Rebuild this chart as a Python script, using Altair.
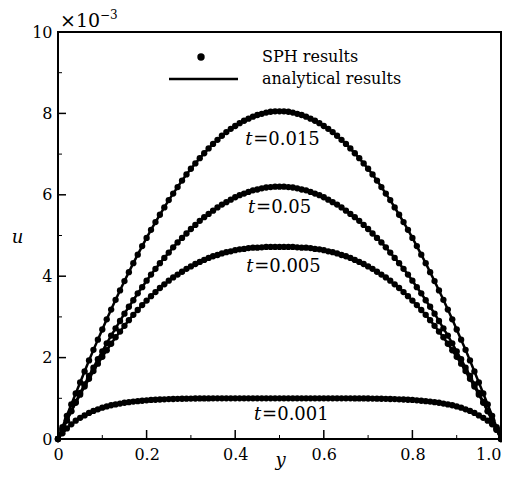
import altair as alt
import pandas as pd

# particle / sample positions across the channel
y_pos = [round(i * 0.01, 2) for i in range(101)]

# velocity u (x 1e-3), one list per time
u_t0015 = [0, 0.29, 0.57, 0.85, 1.12, 1.39, 1.66, 1.93, 2.19, 2.44, 2.69, 2.94, 3.18, 3.42, 3.65, 3.88, 4.10,
           4.32, 4.53, 4.74, 4.94, 5.14, 5.33, 5.51, 5.69, 5.87, 6.03, 6.19, 6.35, 6.50, 6.64, 6.77, 6.90, 7.02,
           7.14, 7.25, 7.35, 7.45, 7.54, 7.62, 7.69, 7.76, 7.82, 7.87, 7.92, 7.96, 7.99, 8.02, 8.04, 8.05, 8.05,
           8.05, 8.04, 8.02, 7.99, 7.96, 7.92, 7.87, 7.82, 7.76, 7.69, 7.62, 7.54, 7.45, 7.35, 7.25, 7.14, 7.02,
           6.90, 6.77, 6.64, 6.50, 6.35, 6.19, 6.03, 5.87, 5.69, 5.51, 5.33, 5.14, 4.94, 4.74, 4.53, 4.32, 4.10,
           3.88, 3.65, 3.42, 3.18, 2.94, 2.69, 2.44, 2.19, 1.93, 1.66, 1.39, 1.12, 0.85, 0.57, 0.29, 0]
u_t005 = [0, 0.23, 0.46, 0.69, 0.91, 1.13, 1.34, 1.55, 1.75, 1.96, 2.15, 2.35, 2.54, 2.72, 2.90, 3.08, 3.25,
          3.41, 3.58, 3.73, 3.89, 4.04, 4.18, 4.32, 4.45, 4.58, 4.71, 4.83, 4.94, 5.05, 5.16, 5.26, 5.36, 5.45,
          5.53, 5.61, 5.69, 5.76, 5.82, 5.88, 5.94, 5.99, 6.03, 6.07, 6.11, 6.13, 6.16, 6.18, 6.19, 6.20, 6.20,
          6.20, 6.19, 6.18, 6.16, 6.13, 6.11, 6.07, 6.03, 5.99, 5.94, 5.88, 5.82, 5.76, 5.69, 5.61, 5.53, 5.45,
          5.36, 5.26, 5.16, 5.05, 4.94, 4.83, 4.71, 4.58, 4.45, 4.32, 4.18, 4.04, 3.89, 3.73, 3.58, 3.41, 3.25,
          3.08, 2.90, 2.72, 2.54, 2.35, 2.15, 1.96, 1.75, 1.55, 1.34, 1.13, 0.91, 0.69, 0.46, 0.23, 0]
u_t0005 = [0, 0.23, 0.46, 0.68, 0.89, 1.09, 1.29, 1.48, 1.67, 1.85, 2.02, 2.18, 2.34, 2.50, 2.64, 2.78, 2.92,
           3.05, 3.17, 3.29, 3.40, 3.51, 3.61, 3.71, 3.80, 3.89, 3.97, 4.04, 4.11, 4.18, 4.24, 4.30, 4.35, 4.40,
           4.45, 4.49, 4.52, 4.56, 4.59, 4.61, 4.64, 4.66, 4.67, 4.69, 4.70, 4.70, 4.71, 4.72, 4.72, 4.72, 4.72,
           4.72, 4.72, 4.72, 4.71, 4.70, 4.70, 4.69, 4.67, 4.66, 4.64, 4.61, 4.59, 4.56, 4.52, 4.49, 4.45, 4.40,
           4.35, 4.30, 4.24, 4.18, 4.11, 4.04, 3.97, 3.89, 3.80, 3.71, 3.61, 3.51, 3.40, 3.29, 3.17, 3.05, 2.92,
           2.78, 2.64, 2.50, 2.34, 2.18, 2.02, 1.85, 1.67, 1.48, 1.29, 1.09, 0.89, 0.68, 0.46, 0.23, 0]
u_t0001 = [0, 0.14, 0.26, 0.36, 0.45, 0.52, 0.58, 0.64, 0.69, 0.73, 0.77, 0.80, 0.83, 0.85, 0.87, 0.89, 0.905,
           0.92, 0.93, 0.94, 0.95, 0.96, 0.965, 0.97, 0.975, 0.98, 0.983, 0.986, 0.989, 0.991, 0.993, 0.995, 0.996,
           0.997, 0.998, 0.999, 1.0, 1.0, 1.0, 1.0, 1.0, 1.0, 1.0, 1.0, 1.0, 1.0, 1.0, 1.0, 1.0, 1.0, 1.0,
           1.0, 1.0, 1.0, 1.0, 1.0, 1.0, 1.0, 1.0, 1.0, 1.0, 1.0, 1.0, 1.0, 1.0, 1.0, 0.999, 0.998, 0.997,
           0.996, 0.995, 0.993, 0.991, 0.989, 0.986, 0.983, 0.98, 0.975, 0.97, 0.965, 0.96, 0.95, 0.94, 0.93,
           0.92, 0.905, 0.89, 0.87, 0.85, 0.83, 0.80, 0.77, 0.73, 0.69, 0.64, 0.58, 0.52, 0.45, 0.36, 0.26, 0.14, 0]

times = ["0.015", "0.05", "0.005", "0.001"]
series = [u_t0015, u_t005, u_t0005, u_t0001]

# annotation anchors (data coords of left edge / vertical centre)
label_x = [0.4225, 0.429, 0.4247, 0.4427]
label_y = [7.35, 5.68, 4.23, 0.59]

x_major = [0, 0.2, 0.4, 0.6, 0.8, 1.0]
x_minor = [0.1, 0.3, 0.5, 0.7, 0.9]
y_major = [0, 2, 4, 6, 8, 10]
y_minor = [1, 3, 5, 7, 9]

rows = []
for t, arr in zip(times, series):
    for yy, uu in zip(y_pos, arr):
        rows.append({"y": yy, "u": uu, "t": t})
df = pd.DataFrame(rows)

lab = pd.DataFrame({"x": label_x, "u": label_y, "eq": ["=" + t for t in times]})

W, H = 443, 407
FONT = "DejaVu Serif"
xs = alt.Scale(domain=[0, 1], nice=False)
ys = alt.Scale(domain=[0, 10], nice=False)

xaxis = alt.Axis(values=x_major,
                 labelExpr="datum.value == 0 ? '0' : format(datum.value, '.1f')",
                 labelAlign={"condition": {"test": "datum.value == 1", "value": "right"},
                             "value": "center"},
                 ticks=False, domain=False, grid=False, labelFlush=False,
                 labelFont=FONT, labelFontSize=16, labelPadding=7, labelColor="black",
                 title="y", titleFont=FONT, titleFontStyle="italic", titleFontWeight="normal",
                 titleFontSize=18, titleColor="black", titleX=222, titleY=21,
                 titleBaseline="middle", titleAlign="center")
yaxis = alt.Axis(values=y_major, format="d",
                 ticks=False, domain=False, grid=False, labelFlush=False,
                 labelFont=FONT, labelFontSize=16, labelPadding=6, labelColor="black",
                 title="u", titleFont=FONT, titleFontStyle="italic", titleFontWeight="normal",
                 titleFontSize=18, titleColor="black", titleAngle=0, titleX=-41, titleY=205,
                 titleBaseline="middle", titleAlign="center")

lines = alt.Chart(df).mark_line(color="black", strokeWidth=2.5).encode(
    x=alt.X("y:Q", scale=xs, axis=xaxis),
    y=alt.Y("u:Q", scale=ys, axis=yaxis),
    detail="t:N",
)
points = alt.Chart(df).mark_circle(color="black", size=40, opacity=1).encode(
    x=alt.X("y:Q", scale=xs), y=alt.Y("u:Q", scale=ys))

t_it = alt.Chart(lab).mark_text(font=FONT, fontStyle="italic", fontSize=18, align="left",
                                baseline="middle", color="black").encode(
    x=alt.X("x:Q", scale=xs), y=alt.Y("u:Q", scale=ys), text=alt.value("t"))
t_rest = alt.Chart(lab).mark_text(font=FONT, fontSize=18, align="left", baseline="middle",
                                  color="black", dx=8).encode(
    x=alt.X("x:Q", scale=xs), y=alt.Y("u:Q", scale=ys), text="eq:N")

xmaj = alt.Chart(pd.DataFrame({"v": x_major})).mark_rule(color="black", strokeWidth=1.5).encode(
    x=alt.X("v:Q", scale=xs), y=alt.value(H), y2=alt.value(H - 9))
xmin = alt.Chart(pd.DataFrame({"v": x_minor})).mark_rule(color="black", strokeWidth=1).encode(
    x=alt.X("v:Q", scale=xs), y=alt.value(H), y2=alt.value(H - 4))
ymaj = alt.Chart(pd.DataFrame({"v": y_major})).mark_rule(color="black", strokeWidth=1.5).encode(
    y=alt.Y("v:Q", scale=ys), x=alt.value(0), x2=alt.value(8))
ymin = alt.Chart(pd.DataFrame({"v": y_minor})).mark_rule(color="black", strokeWidth=1).encode(
    y=alt.Y("v:Q", scale=ys), x=alt.value(0), x2=alt.value(4))

one = pd.DataFrame({"a": [0]})
leg_dot = alt.Chart(one).mark_circle(color="black", size=55, opacity=1).encode(
    x=alt.value(143), y=alt.value(25))
leg_line = alt.Chart(one).mark_rule(color="black", strokeWidth=2.5).encode(
    x=alt.value(111), x2=alt.value(180), y=alt.value(47))
leg_t1 = alt.Chart(one).mark_text(font=FONT, fontSize=16, align="left", baseline="middle",
                                  color="black").encode(
    x=alt.value(204), y=alt.value(25), text=alt.value("SPH results"))
leg_t2 = alt.Chart(one).mark_text(font=FONT, fontSize=16, align="left", baseline="middle",
                                  color="black").encode(
    x=alt.value(204), y=alt.value(47), text=alt.value("analytical results"))

exp1 = alt.Chart(one).mark_text(font=FONT, fontSize=19, align="left", baseline="middle",
                                color="black").encode(
    x=alt.value(2), y=alt.value(-11), text=alt.value("×10"))
exp2 = alt.Chart(one).mark_text(font=FONT, fontSize=12, align="left", baseline="middle",
                                color="black").encode(
    x=alt.value(42), y=alt.value(-17), text=alt.value("−3"))

chart = alt.layer(
    lines, points, t_it, t_rest, xmaj, xmin, ymaj, ymin,
    leg_dot, leg_line, leg_t1, leg_t2, exp1, exp2,
).properties(
    width=W, height=H,
    autosize=alt.AutoSizeParams(type="none"),
    padding={"left": 50, "top": 24, "right": 1, "bottom": 33},
    background="white",
).configure_view(stroke="black", strokeWidth=2)

chart.save("out.html", embed_options={"renderer": "svg", "actions": False})
